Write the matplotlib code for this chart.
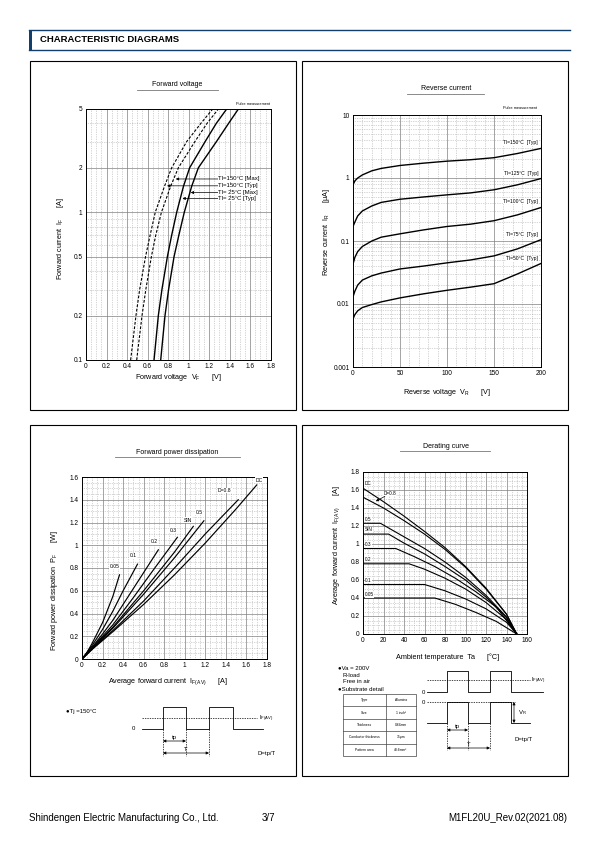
import matplotlib
matplotlib.use("Agg")
import matplotlib.pyplot as plt
from matplotlib.patches import Rectangle

plt.rcParams["font.family"] = ["Liberation Sans", "DejaVu Sans"]
plt.rcParams["mathtext.fontset"] = "custom"
plt.rcParams["mathtext.rm"] = "Liberation Sans"

W, H = 595, 842

# Forward voltage: current [A] vs forward voltage [V]
VF_CURRENT = [0.1, 0.2, 0.3, 0.5, 0.7, 1, 1.5, 2, 3, 4, 5]
VF_150_TYP = [0.435, 0.487, 0.523, 0.58, 0.625, 0.675, 0.765, 0.835, 0.98, 1.12, 1.235]
VF_150_MAX = [0.494, 0.546, 0.583, 0.637, 0.68, 0.735, 0.825, 0.9, 1.06, 1.18, 1.29]
VF_25_TYP = [0.663, 0.705, 0.74, 0.793, 0.835, 0.884, 0.95, 1.01, 1.16, 1.27, 1.371]
VF_25_MAX = [0.728, 0.77, 0.805, 0.858, 0.905, 0.958, 1.03, 1.095, 1.27, 1.39, 1.485]
VF_LABELS = ["Tl=150°C [Max]", "Tl=150°C [Typ]", "Tl= 25°C [Max]", "Tl= 25°C [Typ]"]
VF_LABEL_Y = [1.68, 1.51, 1.36, 1.24]
VF_ARROW_X = [0.875, 0.79, 1.02, 0.94]

# Reverse current: reverse voltage [V] vs current [uA]
IR_VOLT = [0, 2, 5, 10, 20, 30, 50, 75, 100, 125, 150, 175, 200]
IR_150 = [0.78, 0.9, 1.0, 1.12, 1.3, 1.42, 1.58, 1.72, 1.85, 1.95, 2.1, 2.45, 2.95]
IR_125 = [0.17, 0.2, 0.25, 0.3, 0.36, 0.41, 0.46, 0.5, 0.54, 0.58, 0.65, 0.78, 0.98]
IR_100 = [0.043, 0.055, 0.068, 0.082, 0.1, 0.115, 0.13, 0.15, 0.17, 0.185, 0.21, 0.26, 0.34]
IR_75 = [0.013, 0.016, 0.02, 0.024, 0.028, 0.031, 0.036, 0.04, 0.045, 0.05, 0.058, 0.075, 0.105]
IR_50 = [0.0058, 0.0068, 0.0078, 0.0088, 0.0098, 0.0108, 0.0125, 0.0145, 0.0165, 0.0185, 0.021, 0.03, 0.044]
IR_LABELS = ["Tl=150°C  [Typ]", "Tl=125°C  [Typ]", "Tl=100°C  [Typ]", "Tl=75°C  [Typ]", "Tl=50°C  [Typ]"]
IR_LABEL_Y = [3.6, 1.17, 0.42, 0.127, 0.052]

# Forward power dissipation: average current [A] vs power [W]
PF_NAMES = ["0.05", "0.1", "0.2", "0.3", "SIN", "0.5", "D=0.8", "DC"]
PF_X = [
    [0, 0.05, 0.1, 0.2, 0.3, 0.365],
    [0, 0.1, 0.2, 0.3, 0.4, 0.54],
    [0, 0.1, 0.2, 0.3, 0.5, 0.743],
    [0, 0.1, 0.3, 0.5, 0.7, 0.928],
    [0, 0.1, 0.3, 0.6, 0.9, 1.083],
    [0, 0.1, 0.3, 0.6, 0.9, 1.186],
    [0, 0.1, 0.3, 0.6, 0.9, 1.2, 1.52],
    [0, 0.1, 0.3, 0.6, 0.9, 1.2, 1.5, 1.7],
]
PF_Y = [
    [0, 0.06, 0.14, 0.32, 0.55, 0.74],
    [0, 0.12, 0.26, 0.42, 0.6, 0.834],
    [0, 0.105, 0.22, 0.34, 0.62, 0.96],
    [0, 0.1, 0.3, 0.54, 0.79, 1.07],
    [0, 0.095, 0.28, 0.6, 0.94, 1.166],
    [0, 0.09, 0.27, 0.57, 0.89, 1.215],
    [0, 0.09, 0.25, 0.51, 0.8, 1.1, 1.4],
    [0, 0.085, 0.24, 0.48, 0.74, 1.02, 1.32, 1.53],
]
PF_LABEL_XY = [(0.365, 0.79), (0.53, 0.89), (0.74, 1.01), (0.92, 1.11),
               (1.07, 1.2), (1.17, 1.27), (1.455, 1.46), (1.72, 1.55)]

# Derating curve: ambient temperature [C] vs average current [A]
DR_NAMES = ["DC", "0.5", "SIN", "0.3", "0.2", "0.1", "0.05"]
DR_X = [
    [0, 20, 40, 60, 80, 100, 120, 140, 150],
    [0, 17, 40, 60, 80, 100, 120, 140, 150],
    [0, 25, 40, 60, 80, 100, 120, 140, 150],
    [0, 32, 50, 70, 90, 110, 130, 150],
    [0, 45, 60, 80, 100, 120, 140, 150],
    [0, 60, 80, 100, 120, 140, 150],
    [0, 70, 90, 110, 130, 150],
]
DR_Y = [
    [1.62, 1.47, 1.31, 1.14, 0.96, 0.75, 0.51, 0.22, 0],
    [1.23, 1.23, 1.08, 0.95, 0.8, 0.63, 0.43, 0.19, 0],
    [1.11, 1.11, 1.01, 0.89, 0.75, 0.6, 0.41, 0.18, 0],
    [0.95, 0.95, 0.86, 0.75, 0.62, 0.47, 0.3, 0],
    [0.78, 0.78, 0.72, 0.62, 0.5, 0.35, 0.16, 0],
    [0.55, 0.55, 0.48, 0.39, 0.28, 0.13, 0],
    [0.40, 0.40, 0.33, 0.24, 0.14, 0],
]
DR_D08_X = [0, 20, 40, 60, 80, 100, 120, 140, 150]
DR_D08_Y = [1.52, 1.40, 1.26, 1.11, 0.94, 0.74, 0.50, 0.22, 0]
DR_LABEL_Y = [1.67, 1.27, 1.16, 1.0, 0.83, 0.6, 0.435]

TABLE_ROWS = ["Type", "Size", "Thickness", "Conductor thickness", "Pattern area"]
TABLE_VALS = ["Alumina", "1 inch²", "0.64mm", "35μm", "43.6mm²"]


def px_axes(fig, l, t, r, b):
    return fig.add_axes([l / W, 1 - b / H, (r - l) / W, (b - t) / H])


def ftext(fig, x, y, s, **kw):
    kw.setdefault("ha", "center")
    kw.setdefault("va", "center")
    kw.setdefault("fontsize", 5)
    fig.text(x / W, 1 - y / H, s, **kw)


def style(ax, xmaj, xmin, ymaj, ymin, xlab, ylab):
    ax.set_xticks(xmaj)
    ax.set_xticks(xmin, minor=True)
    ax.set_yticks(ymaj)
    ax.set_yticks(ymin, minor=True)
    ax.set_xticklabels(xlab)
    ax.set_yticklabels(ylab)
    ax.set_yticklabels([], minor=True)
    ax.set_xticklabels([], minor=True)
    ax.grid(which="major", color="#808080", lw=0.5, ls="-")
    ax.grid(which="minor", color="#9a9a9a", lw=0.45, ls=(0, (1, 1.8)))
    ax.tick_params(which="both", length=0, labelsize=4.7, pad=2.5)
    for s in ax.spines.values():
        s.set_linewidth(0.7)
    ax.set_axisbelow(True)


fig = plt.figure(figsize=(W / 100, H / 100), dpi=100)
bg = fig.add_axes([0, 0, 1, 1])
bg.set_xlim(0, W)
bg.set_ylim(H, 0)
bg.axis("off")

# header
navy = "#123e6b"
bg.plot([29, 570], [29.5, 29.5], color=navy, lw=1.0)
bg.plot([29, 570], [49.5, 49.5], color=navy, lw=1.0)
bg.add_patch(Rectangle((29, 29.5), 2.5, 20, color=navy, lw=0))
ftext(fig, 40, 39.5, "CHARACTERISTIC DIAGRAMS", ha="left", fontsize=6.8, fontweight="bold")

# panel frames
for (l, t, r, b) in [(30, 61, 296, 410), (302, 61, 568, 410), (30, 425, 296, 776), (302, 425, 568, 776)]:
    bg.add_patch(Rectangle((l, t), r - l, b - t, fill=False, ec="black", lw=0.8))

# titles with underline
for (cx, y, x0, x1, s) in [(177, 85, 137, 218, "Forward voltage"),
                           (446, 89, 407, 484, "Reverse current"),
                           (177, 452, 115, 240, "Forward power dissipation"),
                           (446, 446, 400, 490, "Derating curve")]:
    ftext(fig, cx, y, s, fontsize=5)
    bg.plot([x0, x1], [y + 5, y + 5], color="#777777", lw=0.6)

# ---------- Forward voltage ----------
ax1 = px_axes(fig, 86, 109, 270.7, 360)
ax1.set_yscale("log")
ax1.set_xlim(0, 1.8)
ax1.set_ylim(0.1, 5)
xm = [i * 0.2 for i in range(10)]
style(ax1, xm, [i * 0.05 for i in range(37)],
      [0.1, 0.2, 0.5, 1, 2, 5], [0.3, 0.4, 0.6, 0.7, 0.8, 0.9, 3, 4],
      ["0", "0.2", "0.4", "0.6", "0.8", "1", "1.2", "1.4", "1.6", "1.8"],
      ["0.1", "0.2", "0.5", "1", "2", "5"])
ax1.plot(VF_150_TYP, VF_CURRENT, color="black", lw=0.8, ls=(0, (2.5, 1.5)))
ax1.plot(VF_150_MAX, VF_CURRENT, color="black", lw=0.8, ls=(0, (2.5, 1.5)))
ax1.plot(VF_25_TYP, VF_CURRENT, color="black", lw=1.0)
ax1.plot(VF_25_MAX, VF_CURRENT, color="black", lw=1.0)
for lab, y, xa in zip(VF_LABELS, VF_LABEL_Y, VF_ARROW_X):
    ax1.annotate(lab, xy=(xa, y), xytext=(1.29, y), fontsize=4.3, ha="left", va="center",
                 arrowprops=dict(arrowstyle="-|>", lw=0.5, color="black", shrinkA=0, shrinkB=0,
                                 mutation_scale=4),
                 bbox=dict(boxstyle="square,pad=0.05", fc="white", ec="none"))
ftext(fig, 270, 104, "Pulse measurement", ha="right", fontsize=2.8)
ftext(fig, 60, 238, r"Forward current  I$_{\mathregular{F}}$      [A]", rotation=90, fontsize=5.2)
ftext(fig, 178, 378, r"Forward voltage  V$_{\mathregular{F}}$      [V]", fontsize=5.2)

# ---------- Reverse current ----------
ax2 = px_axes(fig, 353, 115, 541, 367)
ax2.set_yscale("log")
ax2.set_xlim(0, 200)
ax2.set_ylim(0.001, 10)
minors = [m * d for d in [0.001, 0.01, 0.1, 1] for m in range(2, 10)]
style(ax2, [0, 50, 100, 150, 200], list(range(0, 201, 10)),
      [0.001, 0.01, 0.1, 1, 10], minors,
      ["0", "50", "100", "150", "200"], ["0.001", "0.01", "0.1", "1", "10"])
for ser, lab, ly in zip([IR_150, IR_125, IR_100, IR_75, IR_50], IR_LABELS, IR_LABEL_Y):
    ax2.plot(IR_VOLT, ser, color="black", lw=1.0)
    ax2.text(197, ly, lab, fontsize=3.6, ha="right", va="center",
             bbox=dict(boxstyle="square,pad=0.05", fc="white", ec="none"))
ftext(fig, 537, 108, "Pulse measurement", ha="right", fontsize=2.8)
ftext(fig, 327, 232, r"Reverse current  I$_{\mathregular{R}}$      [μA]", rotation=90, fontsize=5.2)
ftext(fig, 447, 392, r"Reverse voltage  V$_{\mathregular{R}}$      [V]", fontsize=5.2)

# ---------- Forward power dissipation ----------
ax3 = px_axes(fig, 82, 477, 267, 659)
ax3.set_xlim(0, 1.8)
ax3.set_ylim(0, 1.6)
style(ax3, xm, [i * 0.05 for i in range(37)],
      [i * 0.2 for i in range(9)], [i * 0.05 for i in range(33)],
      ["0", "0.2", "0.4", "0.6", "0.8", "1", "1.2", "1.4", "1.6", "1.8"],
      ["0", "0.2", "0.4", "0.6", "0.8", "1", "1.2", "1.4", "1.6"])
for xs, ys, name, (lx, ly) in zip(PF_X, PF_Y, PF_NAMES, PF_LABEL_XY):
    ax3.plot(xs, ys, color="black", lw=0.85)
    ax3.text(lx, ly, name, fontsize=3.6, ha="right" if name != "DC" else "center", va="bottom",
             bbox=dict(boxstyle="square,pad=0.05", fc="white", ec="none"))
ftext(fig, 55, 590, r"Forward power dissipation  P$_{\mathregular{F}}$      [W]", rotation=90, fontsize=5.2)
ftext(fig, 168, 682, r"Average forward current  I$_{\mathregular{F(AV)}}$      [A]", fontsize=5.2)

# ---------- Derating curve ----------
ax4 = px_axes(fig, 363, 472, 527, 634)
ax4.set_xlim(0, 160)
ax4.set_ylim(0, 1.8)
style(ax4, list(range(0, 161, 20)), list(range(0, 161, 5)),
      [i * 0.2 for i in range(10)], [i * 0.05 for i in range(37)],
      [str(v) for v in range(0, 161, 20)],
      ["0", "0.2", "0.4", "0.6", "0.8", "1", "1.2", "1.4", "1.6", "1.8"])
for xs, ys, name, ly in zip(DR_X, DR_Y, DR_NAMES, DR_LABEL_Y):
    ax4.plot(xs, ys, color="black", lw=0.8)
    ax4.text(2, ly, name, fontsize=3.4, ha="left", va="center",
             bbox=dict(boxstyle="square,pad=0.05", fc="white", ec="none"))
ax4.plot(DR_D08_X, DR_D08_Y, color="black", lw=0.8)
ax4.annotate("D=0.8", xy=(12.5, 1.475), xytext=(20, 1.56), fontsize=3.4, ha="left", va="center",
             arrowprops=dict(arrowstyle="-|>", lw=0.5, color="black", shrinkA=0, shrinkB=0,
                             mutation_scale=4),
             bbox=dict(boxstyle="square,pad=0.05", fc="white", ec="none"))
ftext(fig, 337, 545, r"Average forward current  I$_{\mathregular{F(AV)}}$      [A]", rotation=90, fontsize=5.2)
ftext(fig, 448, 657, "Ambient temperature  Ta      [°C]", fontsize=5.2)

# ---------- waveform sketches ----------
wl = dict(color="black", lw=0.6)
dl = dict(color="black", lw=0.5, ls=(0, (2, 1.5)))
arr = dict(arrowstyle="<|-|>", lw=0.5, color="black", shrinkA=0, shrinkB=0, mutation_scale=4)

# panel 3
ftext(fig, 66, 711, "●Tj =150°C", ha="left", fontsize=4.3)
ftext(fig, 133, 729, "0", fontsize=4.3)
bg.plot([142, 163, 163, 186, 186, 209, 209, 233, 233, 263],
        [729, 729, 707, 707, 729, 729, 707, 707, 729, 729], **wl)
bg.plot([142, 257], [718, 718], **dl)
ftext(fig, 259, 718.5, r"I$_{\mathregular{F(AV)}}$", ha="left", fontsize=4.3)
for x in [163, 186, 209]:
    bg.plot([x, x], [729, 756], **dl)
bg.annotate("", xy=(163, 741), xytext=(186, 741), arrowprops=arr)
bg.annotate("", xy=(163, 753), xytext=(209, 753), arrowprops=arr)
ftext(fig, 174.5, 737, "tp", fontsize=4.3)
ftext(fig, 186, 749.5, "T", fontsize=4.3)
ftext(fig, 267, 753, "D=tp/T", fontsize=4.3)

# panel 4
ftext(fig, 338, 669, "●Va = 200V", ha="left", fontsize=4.3)
ftext(fig, 343, 675.7, "R-load", ha="left", fontsize=4.3)
ftext(fig, 343, 681.7, "Free in air", ha="left", fontsize=4.3)
ftext(fig, 338, 689.3, "●Substrate detail", ha="left", fontsize=4.3)
t0, rh = 694, 12.4
bg.add_patch(Rectangle((343, t0), 73, rh * 5, fill=False, ec="#444444", lw=0.5))
bg.plot([386, 386], [t0, t0 + rh * 5], color="#444444", lw=0.5)
for i, (k, v) in enumerate(zip(TABLE_ROWS, TABLE_VALS)):
    if i:
        bg.plot([343, 416], [t0 + rh * i, t0 + rh * i], color="#444444", lw=0.5)
    ftext(fig, 364.5, t0 + rh * (i + 0.5), k, fontsize=2.4)
    ftext(fig, 401, t0 + rh * (i + 0.5), v, fontsize=2.4)

ftext(fig, 423, 692, "0", fontsize=4.3)
bg.plot([427, 447, 447, 468, 468, 490, 490, 511, 511, 543],
        [692, 692, 671, 671, 692, 692, 671, 671, 692, 692], **wl)
bg.plot([427, 530], [680, 680], **dl)
ftext(fig, 531, 680.5, r"I$_{\mathregular{F(AV)}}$", ha="left", fontsize=4.3)

ftext(fig, 423, 702, "0", fontsize=4.3)
bg.plot([427, 515], [702, 702], **dl)
bg.plot([427, 447, 447, 468, 468, 490, 490, 511, 511, 530],
        [723, 723, 702, 702, 723, 723, 702, 702, 723, 723], **wl)
bg.annotate("", xy=(514, 702), xytext=(514, 723), arrowprops=arr)
ftext(fig, 518, 713, r"V$_{\mathregular{R}}$", ha="left", fontsize=4.3)
for x in [447, 468, 490]:
    bg.plot([x, x], [723, 750], **dl)
bg.annotate("", xy=(447, 730), xytext=(468, 730), arrowprops=arr)
bg.annotate("", xy=(447, 748), xytext=(490, 748), arrowprops=arr)
ftext(fig, 457.5, 726.5, "tp", fontsize=4.3)
ftext(fig, 468.5, 744.5, "T", fontsize=4.3)
ftext(fig, 524, 740, "D=tp/T", fontsize=4.3)

# footer
ftext(fig, 29, 818, "Shindengen Electric Manufacturing Co., Ltd.", ha="left", fontsize=7)
ftext(fig, 262, 818, "3/7", ha="left", fontsize=7)
ftext(fig, 567, 818, "M1FL20U_Rev.02(2021.08)", ha="right", fontsize=7)

fig.savefig("out.png", dpi=100)
